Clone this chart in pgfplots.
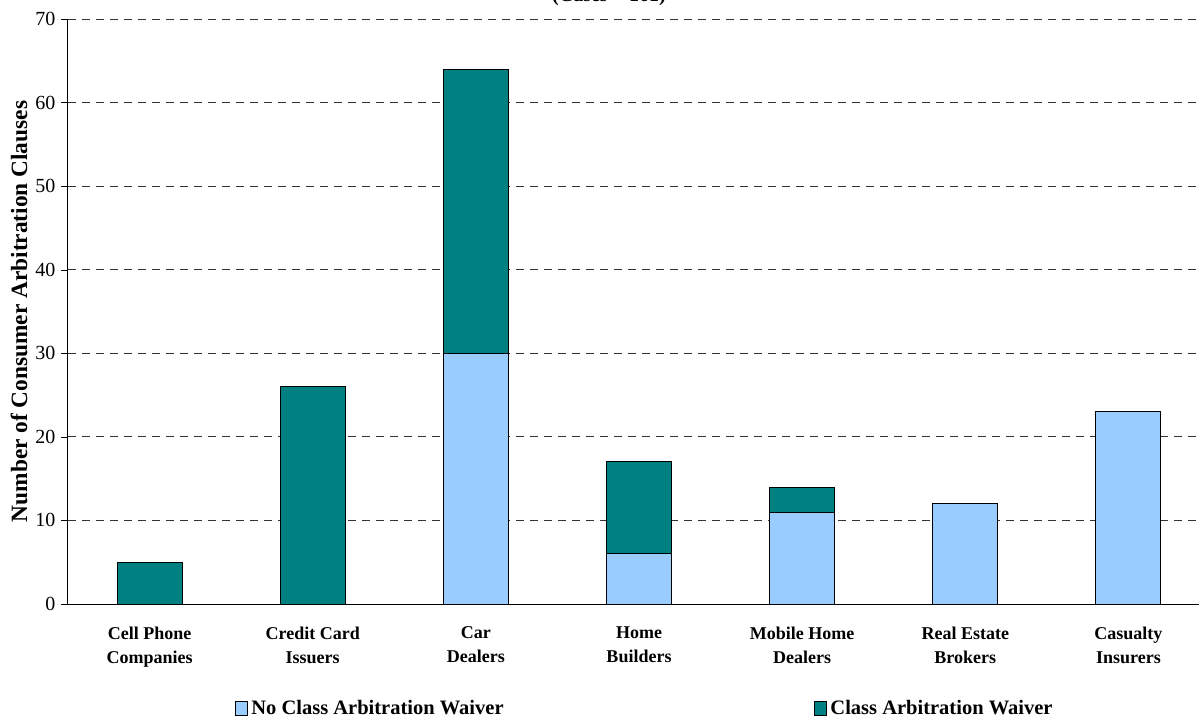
\documentclass[border=0pt]{standalone}
\usepackage{pgfplots}
\pgfplotsset{compat=1.18}
\usepackage{fontspec}
\setmainfont{Liberation Serif}
\definecolor{nowaiver}{HTML}{99CCFF}
\definecolor{waiver}{HTML}{008080}
\begin{document}
\begin{tikzpicture}
\begin{axis}[
  at={(40.8pt,69pt)}, anchor=south west,
  scale only axis, width=685.2pt, height=351pt,
  ybar stacked, bar width=39pt,
  xmin=-0.5, xmax=6.5, ymin=0, ymax=70,
  ytick={0,10,...,70},
  xtick={0,...,6},
  xticklabels={Cell Phone\\Companies,Credit Card\\Issuers,Car\\Dealers,Home\\Builders,Mobile Home\\Dealers,Real Estate\\Brokers,Casualty\\Insurers},
  xticklabel style={align=center, font=\bfseries\fontsize{10.8}{14.4}\selectfont, yshift=-6pt},
  extra x ticks={-0.5,0.5,...,6.5},
  extra x tick labels={},
  extra x tick style={major tick length=4pt, tick style={black}, grid=none},
  major x tick style={draw=none},
  axis lines*=left,
  axis line style={black, line width=0.6pt},
  tick align=outside,
  major tick length=4pt,
  ytick style={black},
  ymajorgrids,
  major grid style={dash pattern=on 4.8pt off 3.6pt, black!80, line width=0.5pt},
  yticklabel style={font=\fontsize{12}{14}\selectfont},
  /pgf/number format/assume math mode=true,
  ylabel={\bfseries Number of Consumer Arbitration Clauses},
  ylabel style={font=\fontsize{14}{16}\selectfont, yshift=-2pt},
  legend style={at={(0.1419,-0.153)}, anchor=north west, draw=none,
    font=\bfseries\fontsize{12.3}{14}\selectfont, legend columns=2,
    /tikz/every even column/.append style={column sep=184.5pt}},
  legend image code/.code={\draw[#1, draw=black, line width=0.6pt] (0pt,-4pt) rectangle (7pt,4.5pt);},
]
\addplot[fill=nowaiver, draw=black, line width=0.6pt] coordinates {(0,0) (1,0) (2,30) (3,6) (4,11) (5,12) (6,23)};
\addplot[fill=waiver, draw=black, line width=0.6pt] coordinates {(0,5) (1,26) (2,34) (3,11) (4,3) (5,0) (6,0)};
\legend{No Class Arbitration Waiver, Class Arbitration Waiver}
\end{axis}
\node[anchor=base, font=\bfseries\fontsize{12}{14}\selectfont] at (365.4pt,430.6pt) {(Cases = 161)};
\pgfresetboundingbox
\useasboundingbox (0,0) rectangle (719.4pt,431.4pt);
\end{tikzpicture}
\end{document}
